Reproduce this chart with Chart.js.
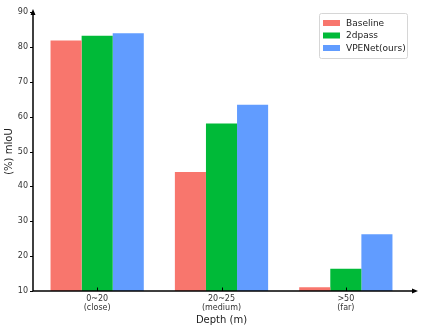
<!DOCTYPE html>
<html>
<head>
<meta charset="utf-8">
<script src="https://cdn.jsdelivr.net/npm/chart.js@4.4.0/dist/chart.umd.min.js"></script>
<style>
  html, body { margin: 0; padding: 0; background: #fff; }
  #wrap { width: 423px; height: 332px; position: relative; }
</style>
</head>
<body>
<div id="wrap"><canvas id="depthChart"></canvas></div>
<script>
const categories = [['0~20', '(close)'], ['20~25', '(medium)'], ['>50', '(far)']];
const seriesNames = ['Baseline', '2dpass', 'VPENet(ours)'];
const baseline = [81.8, 44.1, 11.1];
const twodpass = [83.2, 58.0, 16.4];
const vpenet = [83.9, 63.4, 26.3];
const yTicks = [10, 20, 30, 40, 50, 60, 70, 80, 90];
const colors = ['#F8766D', '#00BA38', '#619CFF'];

const FONT = "'DejaVu Sans', sans-serif";

// axes with arrows, tick marks and legend box, drawn by hand like the matplotlib figure
const arrowAxes = {
  id: 'arrowAxes',
  afterDraw(chart) {
    const ctx = chart.ctx;
    const a = chart.chartArea;
    const ax = a.left - 2;
    const yScale = chart.scales.y;
    const xScale = chart.scales.x;
    ctx.save();
    ctx.strokeStyle = '#000';
    ctx.fillStyle = '#000';
    ctx.lineWidth = 1.5;
    ctx.beginPath();
    ctx.moveTo(ax, a.bottom);
    ctx.lineTo(ax, a.top);
    ctx.moveTo(ax, a.bottom);
    ctx.lineTo(a.right + 6, a.bottom);
    ctx.stroke();
    // tick marks
    ctx.lineWidth = 1;
    ctx.beginPath();
    yTicks.forEach(v => {
      const y = Math.round(yScale.getPixelForValue(v)) + 0.5;
      ctx.moveTo(ax - 3, y);
      ctx.lineTo(ax, y);
    });
    categories.forEach((c, i) => {
      const x = Math.round(xScale.getPixelForValue(i)) + 0.5;
      ctx.moveTo(x, a.bottom);
      ctx.lineTo(x, a.bottom - 3.5);
    });
    ctx.stroke();
    // up arrow
    ctx.beginPath();
    ctx.moveTo(ax, a.top - 3);
    ctx.lineTo(ax - 2.5, a.top + 3);
    ctx.lineTo(ax + 2.5, a.top + 3);
    ctx.closePath();
    ctx.fill();
    // right arrow
    ctx.beginPath();
    ctx.moveTo(a.right + 10, a.bottom);
    ctx.lineTo(a.right + 4, a.bottom - 2.5);
    ctx.lineTo(a.right + 4, a.bottom + 2.5);
    ctx.closePath();
    ctx.fill();

    // legend
    const x0 = 319, y0 = 13, w = 88, h = 45;
    ctx.fillStyle = 'rgba(255,255,255,0.9)';
    ctx.strokeStyle = '#d6d6d6';
    ctx.lineWidth = 1;
    ctx.beginPath();
    ctx.roundRect(x0 + 0.5, y0 + 0.5, w, h, 2);
    ctx.fill();
    ctx.stroke();
    ctx.font = '9px ' + FONT;
    ctx.textBaseline = 'middle';
    chart.data.datasets.forEach((ds, i) => {
      const yy = y0 + 10 + i * 12.5;
      ctx.fillStyle = ds.backgroundColor;
      ctx.fillRect(x0 + 4, yy - 3, 17, 6);
      ctx.fillStyle = '#222';
      ctx.fillText(ds.label, x0 + 27, yy + 0.5);
    });
    ctx.restore();
  }
};

const ctx = document.getElementById('depthChart').getContext('2d');
const depthChart = new Chart(ctx, {
  type: 'bar',
  data: {
    labels: categories,
    datasets: [
      { label: seriesNames[0], data: baseline, backgroundColor: colors[0] },
      { label: seriesNames[1], data: twodpass, backgroundColor: colors[1] },
      { label: seriesNames[2], data: vpenet, backgroundColor: colors[2] }
    ]
  },
  options: {
    responsive: true,
    maintainAspectRatio: false,
    animation: false,
    layout: { padding: { top: 12, right: 15, left: 3, bottom: 6 } },
    datasets: { bar: { categoryPercentage: 0.75, barPercentage: 1.0, borderWidth: 0 } },
    plugins: {
      legend: { display: false },
      tooltip: { enabled: false }
    },
    scales: {
      x: {
        grid: { display: false, drawTicks: false },
        border: { display: false },
        ticks: { color: '#333', font: { family: FONT, size: 8 }, padding: 3, maxRotation: 0 },
        title: { display: true, text: 'Depth (m)', color: '#222', font: { family: FONT, size: 10 }, padding: { top: 1, bottom: 0 } },
        afterFit(scale) { scale.height = 35; }
      },
      y: {
        min: 10,
        max: 90,
        afterBuildTicks(scale) { scale.ticks = yTicks.map(v => ({ value: v })); },
        grid: { display: false, drawOnChartArea: false, drawTicks: false },
        border: { display: false },
        ticks: { color: '#333', font: { family: FONT, size: 8 }, padding: 7 },
        title: { display: true, text: '(%) mIoU', color: '#222', font: { family: FONT, size: 10 }, padding: { top: 0, bottom: 2 } },
        afterFit(scale) { scale.width = 32; }
      }
    }
  },
  plugins: [arrowAxes]
});
</script>
</body>
</html>
